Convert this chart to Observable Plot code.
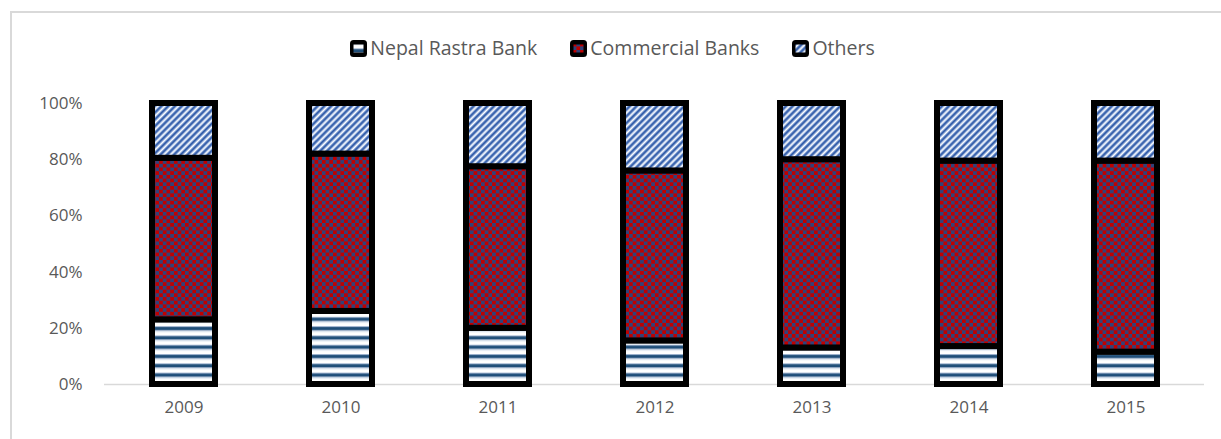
<!DOCTYPE html>
<html>
<head>
<meta charset="utf-8">
<script src="https://cdn.jsdelivr.net/npm/d3@7"></script>
<script src="https://cdn.jsdelivr.net/npm/@observablehq/plot@0.6"></script>
<style>
  html, body { margin: 0; padding: 0; background: #fff; overflow: hidden; }
  body { width: 1221px; height: 439px; position: relative; font-family: "Open Sans", sans-serif; }
  #border { position: absolute; left: 10px; top: 11px; width: 1400px; height: 600px; border: 2px solid #d9d9d9; box-sizing: border-box; pointer-events: none; }
  #legend { position: relative; height: 75px; display: flex; justify-content: center; align-items: flex-start; padding-top: 36px; box-sizing: border-box; gap: 32px; color: #595959; font-size: 19.5px; padding-left: 3px; }
  .item { display: flex; align-items: center; gap: 2px; line-height: 24px; }
  #chart { position: relative; }
</style>
</head>
<body>
<div id="border"></div>
<svg width="0" height="0" style="position:absolute">
  <defs>
    <pattern id="pNRB" patternUnits="userSpaceOnUse" width="10" height="9.3">
      <rect width="10" height="9.3" fill="#ffffff"/>
      <rect y="0" width="10" height="1" fill="#9fb3cf"/>
      <rect y="1" width="10" height="3" fill="#1f4e79"/>
      <rect y="4" width="10" height="1" fill="#7f98b8"/>
      <rect y="5" width="10" height="1" fill="#dde6f0"/>
    </pattern>
    <pattern id="pCB" patternUnits="userSpaceOnUse" width="7.4" height="7.4">
      <rect width="7.4" height="7.4" fill="#30427a"/>
      <rect x="0" y="0" width="3.7" height="3.7" fill="#c00000"/>
      <rect x="3.7" y="3.7" width="3.7" height="3.7" fill="#c00000"/>
    </pattern>
    <pattern id="pOth" patternUnits="userSpaceOnUse" width="4.8" height="10" patternTransform="rotate(45)">
      <rect width="4.8" height="10" fill="#ffffff"/>
      <rect x="0" width="0.8" height="10" fill="#8eaadb"/>
      <rect x="0.8" width="2" height="10" fill="#2f5ba8"/>
      <rect x="2.8" width="0.8" height="10" fill="#9db6e0"/>
    </pattern>
  </defs>
</svg>
<div id="legend"></div>
<div id="chart"></div>
<script>
const years = ["2009", "2010", "2011", "2012", "2013", "2014", "2015"];
const seriesNames = ["Nepal Rastra Bank", "Commercial Banks", "Others"];
const nrb = [23, 26, 20, 15.5, 13, 13.5, 11.5];
const commercial = [57.5, 56, 57.5, 60.5, 67, 66, 68];
const others = [19.5, 18, 22.5, 24, 20, 20.5, 20.5];
const yTicks = [0, 20, 40, 60, 80, 100];
const patterns = ["url(#pNRB)", "url(#pCB)", "url(#pOth)"];

const seriesValues = [nrb, commercial, others];
const rows = [];
years.forEach((yr, i) => {
  seriesNames.forEach((s, j) => rows.push({year: yr, series: s, value: seriesValues[j][i]}));
});

// legend
const legend = document.getElementById("legend");
seriesNames.forEach((s, j) => {
  const item = document.createElement("div");
  item.className = "item";
  item.innerHTML = `<svg width="19" height="19" style="display:block"><rect x="1" y="1" width="17" height="17" rx="3.5" fill="#000"/><rect x="4.5" y="5.5" width="10" height="8" fill="${patterns[j]}"/></svg><span>${s}</span>`;
  legend.appendChild(item);
});

const chart = Plot.plot({
  width: 1221,
  height: 364,
  marginLeft: 104,
  marginRight: 17,
  marginTop: 28,
  marginBottom: 55,
  style: {fontFamily: "Open Sans, sans-serif", fontSize: "17px", color: "#595959", background: "transparent", overflow: "visible"},
  x: {domain: years, paddingInner: 0.6, paddingOuter: 0.3, label: null},
  y: {domain: [0, 100], label: null},
  color: {domain: seriesNames, range: patterns},
  marks: [
    Plot.ruleY([0], {stroke: "#d9d9d9", strokeWidth: 1.5}),
    Plot.axisY({ticks: [], line: true, stroke: "#d9d9d9", strokeWidth: 1.5, label: null}),
    Plot.axisY({ticks: yTicks, tickSize: 0, tickPadding: 22, tickFormat: d => d + "%", fill: "#595959", label: null}),
    Plot.axisX({tickSize: 0, tickPadding: 16, fill: "#595959", label: null}),
    Plot.barY(rows, Plot.stackY({x: "year", y: "value", fill: "series", stroke: "#000", strokeWidth: 6, order: null}))
  ]
});
document.getElementById("chart").appendChild(chart);
</script>
</body>
</html>
